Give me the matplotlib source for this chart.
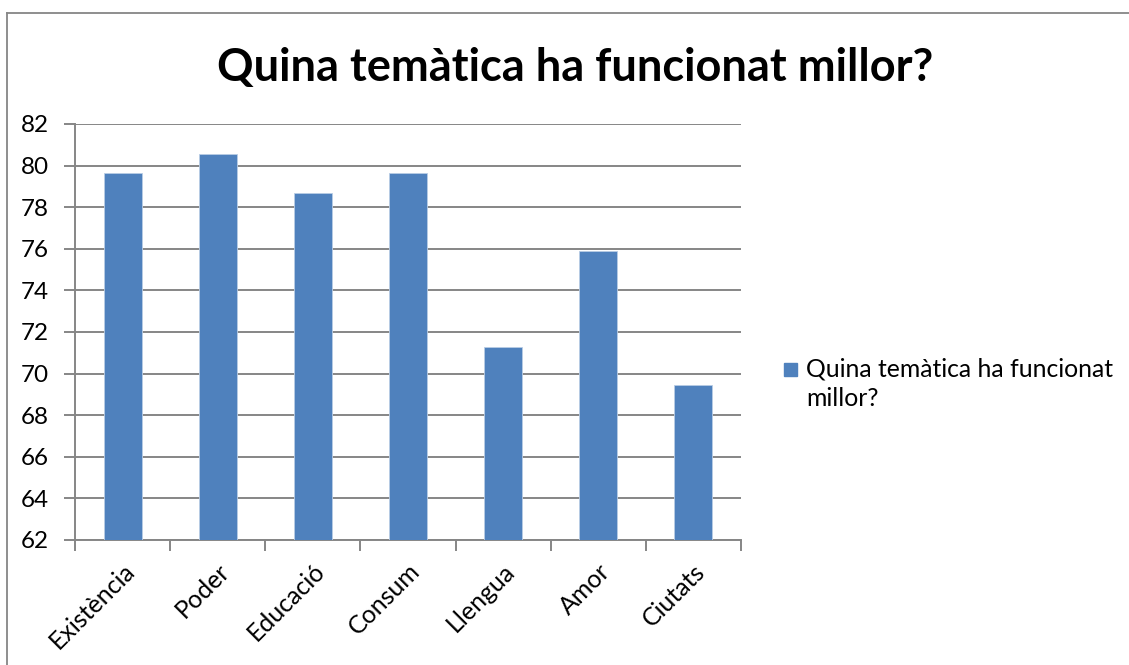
import matplotlib
matplotlib.use("Agg")
import matplotlib.pyplot as plt
import matplotlib.transforms as mtransforms
from matplotlib.lines import Line2D

categories = ["Existència", "Poder", "Educació", "Consum", "Llengua", "Amor", "Ciutats"]
values = [79.63, 80.56, 78.68, 79.63, 71.28, 75.91, 69.44]
series_name = "Quina temàtica ha funcionat millor?"
y_ticks = [62, 64, 66, 68, 70, 72, 74, 76, 78, 80, 82]

plt.rcParams["font.family"] = ["Lato", "DejaVu Sans"]

W, H = 1129, 665
fig = plt.figure(figsize=(W / 100, H / 100), dpi=100)
fig.patch.set_facecolor("white")

# chart-area frame (top and left edges)
frame_col = "#868686"
fig.add_artist(Line2D([6.5 / W, 1.0], [1 - 12.5 / H, 1 - 12.5 / H],
                      transform=fig.transFigure, color=frame_col, lw=1.3))
fig.add_artist(Line2D([6.5 / W, 6.5 / W], [0, 1 - 12.5 / H],
                      transform=fig.transFigure, color=frame_col, lw=1.3))

ax = fig.add_axes([75 / W, (H - 540) / H, (741 - 75) / W, (540 - 124) / H])

bar_color = "#4F81BD"
x = list(range(len(categories)))
bars = ax.bar(x, values, width=0.4, color=bar_color, edgecolor="#B9CDE5",
              linewidth=0.6, zorder=3, label=series_name)

ax.set_ylim(62, 82)
ax.set_xlim(-0.5, len(categories) - 0.5)
ax.set_yticks(y_ticks)
ax.set_yticklabels([str(t) for t in y_ticks], fontsize=17.5)

grid_col = "#868686"
ax.yaxis.grid(True, color=grid_col, linewidth=1.4, zorder=0)
ax.set_axisbelow(True)

for side in ["top", "right"]:
    ax.spines[side].set_visible(False)
ax.spines["left"].set_color(grid_col)
ax.spines["left"].set_linewidth(1.4)
ax.spines["bottom"].set_color(grid_col)
ax.spines["bottom"].set_linewidth(1.4)

# category ticks sit at the boundaries between bars
ax.set_xticks([i - 0.5 for i in range(len(categories) + 1)], minor=False)
ax.set_xticklabels([""] * (len(categories) + 1))
ax.set_xticks(x, minor=True)
labels = ax.set_xticklabels(categories, minor=True, rotation=45, ha="right",
                            rotation_mode="anchor", fontsize=18)
shift = mtransforms.ScaledTranslation(-5 / 100, 0, fig.dpi_scale_trans)
for lbl in labels:
    lbl.set_transform(lbl.get_transform() + shift)
ax.tick_params(axis="x", which="major", length=8, width=1.4, color=grid_col)
ax.tick_params(axis="x", which="minor", length=0, pad=14)
ax.tick_params(axis="y", length=8, width=1.4, color=grid_col, pad=11)

fig.text(575 / W, 1 - 68 / H, series_name, ha="center", va="center",
         fontsize=32.5, fontweight="bold")

# legend entry
fig.add_artist(plt.Rectangle((784 / W, 1 - 376 / H), 13 / W, 13 / H,
                             transform=fig.transFigure, color=bar_color))
fig.text(806 / W, 1 - 369 / H, "Quina temàtica ha funcionat", ha="left",
         va="center", fontsize=17.8)
fig.text(806 / W, 1 - 398 / H, "millor?", ha="left", va="center", fontsize=17.8)

fig.savefig("out.png", dpi=100, facecolor="white")
